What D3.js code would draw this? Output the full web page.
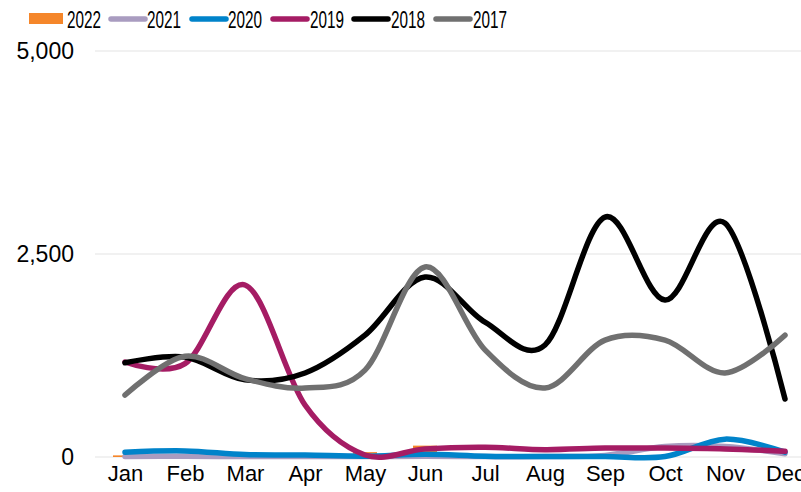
<!DOCTYPE html>
<html><head><meta charset="utf-8">
<script src="https://cdn.jsdelivr.net/npm/d3@7"></script>
<style>body{margin:0;background:#fff}svg{display:block;font-family:"Liberation Sans",Arial,sans-serif}</style>
</head><body><svg id="c" width="801" height="492"></svg>
<script>
const months = ["Jan","Feb","Mar","Apr","May","Jun","Jul","Aug","Sep","Oct","Nov","Dec"];
const yTicks = [0, 2500, 5000];
const v2022 = [20, 0, 0, 0, 60, 140, 0, 0, 0, 0, 0, 0];
const v2021 = [5, 10, 5, 5, 5, 10, 5, 5, 20, 130, 130, 40];
const v2020 = [60, 75, 30, 25, 10, 35, 10, 5, 5, 5, 220, 60];
const v2019 = [1170, 1150, 2118, 640, 25, 100, 120, 90, 110, 110, 100, 70];
const v2018 = [1160, 1230, 950, 1035, 1500, 2217, 1660, 1380, 2955, 1933, 2880, 714];
const v2017 = [763, 1240, 965, 850, 1070, 2340, 1320, 850, 1440, 1440, 1035, 1500];
const lineSeries = [
  {name:"2021", values:v2021, color:"#A99CC0"},
  {name:"2020", values:v2020, color:"#0083CA"},
  {name:"2019", values:v2019, color:"#A51C64"},
  {name:"2018", values:v2018, color:"#000000"},
  {name:"2017", values:v2017, color:"#707070"}
];
const barSeries = {name:"2022", values:v2022, color:"#F5862A"};

const svg = d3.select("#c");
const x = d3.scalePoint().domain(months).range([95, 815]).padding(0.5);
const y = d3.scaleLinear().domain([0, 5000]).range([457, 51]);

// gridlines
svg.append("g").selectAll("line").data(yTicks).join("line")
  .attr("x1", 95).attr("x2", 801)
  .attr("y1", d => y(d)).attr("y2", d => y(d))
  .attr("stroke", "#e3e3e3").attr("stroke-width", 1);

// y axis labels
const yAxis = d3.axisLeft(y).tickValues(yTicks).tickSize(0).tickPadding(0).tickFormat(d3.format(","));
const ga = svg.append("g").attr("transform", "translate(74,0)").call(yAxis);
ga.select(".domain").remove();
ga.selectAll("text").attr("font-size", 23).attr("fill", "#000").attr("font-family", "Liberation Sans, Arial, sans-serif");

// x axis labels
const xAxis = d3.axisBottom(x).tickSize(0).tickPadding(0);
const gx = svg.append("g").attr("transform", "translate(0,465)").call(xAxis);
gx.select(".domain").remove();
gx.selectAll("text").attr("font-size", 22).attr("fill", "#000").attr("font-family", "Liberation Sans, Arial, sans-serif");

// bars
const bw = 24;
svg.append("g").selectAll("rect").data(barSeries.values).join("rect")
  .attr("x", (d, i) => x(months[i]) - bw / 2)
  .attr("width", bw)
  .attr("y", d => y(d))
  .attr("height", d => y(0) - y(d))
  .attr("fill", barSeries.color);

// lines
const line = d3.line().x((d, i) => x(months[i])).y(d => y(d)).curve(d3.curveCardinal.tension(0));
svg.append("g").selectAll("path").data(lineSeries).join("path")
  .attr("d", s => line(s.values))
  .attr("fill", "none")
  .attr("stroke", s => s.color)
  .attr("stroke-width", 5.5)
  .attr("stroke-linecap", "round")
  .attr("stroke-linejoin", "round");

// legend
const legendItems = [
  {name:"2022", color:barSeries.color, type:"bar", x:29, tx:67},
  {name:"2021", color:lineSeries[0].color, type:"line", x:111, tx:147},
  {name:"2020", color:lineSeries[1].color, type:"line", x:192, tx:228},
  {name:"2019", color:lineSeries[2].color, type:"line", x:273, tx:310},
  {name:"2018", color:lineSeries[3].color, type:"line", x:354, tx:391},
  {name:"2017", color:lineSeries[4].color, type:"line", x:436, tx:473}
];
const lg = svg.append("g");
legendItems.forEach(it => {
  if (it.type === "bar") {
    lg.append("rect").attr("x", it.x).attr("y", 13).attr("width", 34).attr("height", 11).attr("fill", it.color);
  } else {
    lg.append("line").attr("x1", it.x).attr("x2", it.x + 34).attr("y1", 19).attr("y2", 19)
      .attr("stroke", it.color).attr("stroke-width", 5.5).attr("stroke-linecap", "round");
  }
  lg.append("text").attr("x", it.tx).attr("y", 27.5).attr("font-size", 24.5)
    .attr("textLength", 34).attr("lengthAdjust", "spacingAndGlyphs")
    .attr("fill", "#000").text(it.name);
});
</script></body></html>
